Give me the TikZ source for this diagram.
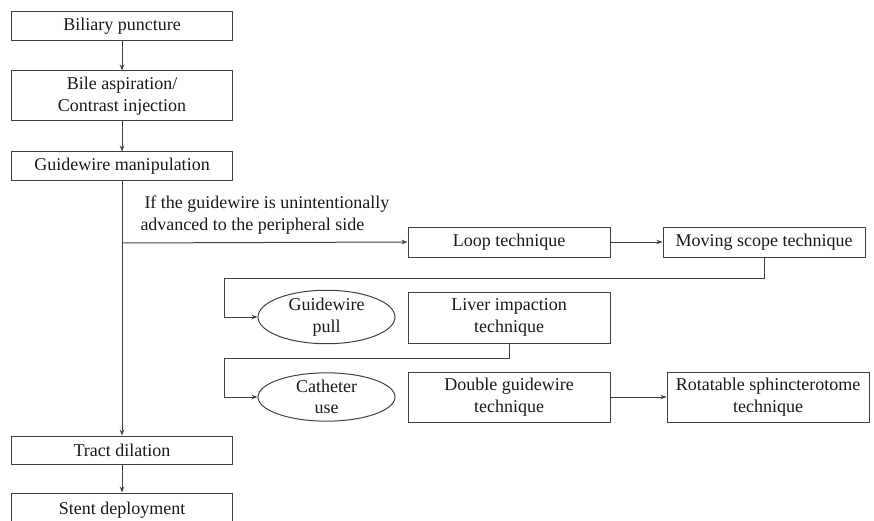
\documentclass[tikz,border=0pt]{standalone}
\usepackage{fontspec}
\setmainfont{Liberation Serif}
\usetikzlibrary{shapes.geometric,arrows.meta}
\begin{document}
\begin{tikzpicture}[x=1pt,y=-1pt,
  font=\fontsize{18}{21.5}\selectfont,
  line width=1pt,
  stepbox/.style={draw=black!75,rectangle,inner sep=0pt,align=center,text=black!90},
  oval/.style={draw=black!75,ellipse,inner sep=0pt,align=center,minimum width=137pt,minimum height=48pt,text=black!90},
  arr/.style={draw=black!75,-{Stealth[length=6pt,width=4.5pt]}},
  ln/.style={draw=black!75}]
\useasboundingbox (0,0) rectangle (874,521);
\node[stepbox,minimum width=221pt,minimum height=29pt] (bp) at (122,26.5) {Biliary puncture};
\node[stepbox,minimum width=221pt,minimum height=50pt] (ba) at (122,96) {Bile aspiration/\\Contrast injection};
\node[stepbox,minimum width=221pt,minimum height=29pt] (gm) at (122,166.5) {Guidewire manipulation};
\node[stepbox,minimum width=221pt,minimum height=28pt] (td) at (122,450) {Tract dilation};
\node[stepbox,minimum width=221pt,minimum height=34pt] (sd) at (122,510) {Stent deployment};
\node[stepbox,minimum width=202pt,minimum height=30pt] (lp) at (509,242) {Loop technique};
\node[stepbox,minimum width=202pt,minimum height=30pt] (ms) at (764,242) {Moving scope technique};
\node[oval] (gp) at (326.5,317) {Guidewire\\pull};
\node[stepbox,minimum width=202pt,minimum height=51pt] (li) at (509,317.5) {Liver impaction\\technique};
\node[oval] (cu) at (326.5,397) {Catheter\\use};
\node[stepbox,minimum width=202pt,minimum height=50pt] (dg) at (509,397) {Double guidewire\\technique};
\node[stepbox,minimum width=202pt,minimum height=50pt] (rs) at (768,397) {Rotatable sphincterotome\\technique};
\node[anchor=west,align=left,inner sep=0pt,text=black!90] (lbl) at (140,215) {\hspace{4pt}If the guidewire is unintentionally\\advanced to the peripheral side};
\coordinate (br) at (122,243);
\coordinate (j1) at (224,278);
\coordinate (j2) at (224,358);
\draw[arr] (bp) -- (ba);
\draw[arr] (ba) -- (gm);
\draw[arr] (gm) -- (td);
\draw[arr] (td) -- (sd);
\draw[arr] (br) -- (lp.west);
\draw[arr] (lp) -- (ms);
\draw[arr] (ms.south) |- (j1) |- (gp.west);
\draw[arr] (li.south) |- (j2) |- (cu.west);
\draw[arr] (dg) -- (rs);
\end{tikzpicture}
\end{document}
